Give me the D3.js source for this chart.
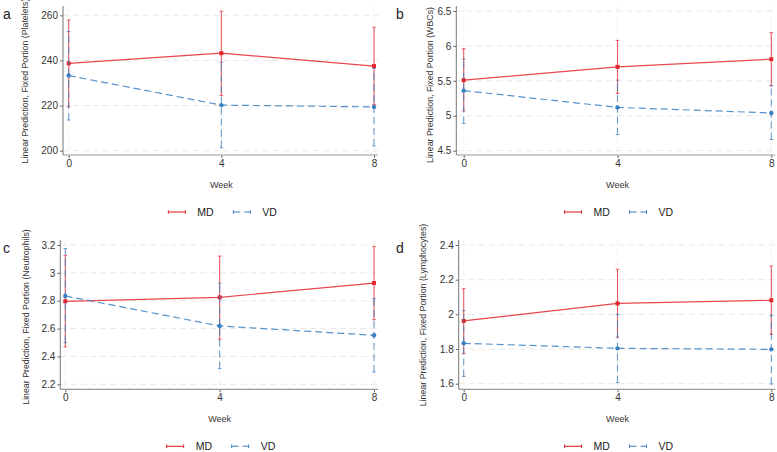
<!DOCTYPE html>
<html>
<head>
<meta charset="utf-8">
<script src="https://cdn.jsdelivr.net/npm/d3@7"></script>
<style>
  body { margin: 0; background: #fff; }
  svg { font-family: "Liberation Sans", Arial, sans-serif; }
</style>
</head>
<body>
<div id="chart"></div>
<script>
const weeks = [0, 4, 8];
const groups = ["MD", "VD"];

// point estimates and 95% CI per panel, [week0, week4, week8]
const plateletsMD = [238.7, 243.2, 237.5], plateletsMDlo = [219.5, 224.4, 220.5], plateletsMDhi = [257.9, 261.8, 254.7];
const plateletsVD = [233.3, 220.2, 219.4], plateletsVDlo = [213.6, 201.3, 202.1], plateletsVDhi = [252.8, 239.2, 236.5];
const wbcMD = [5.51, 5.70, 5.81], wbcMDlo = [5.07, 5.32, 5.43], wbcMDhi = [5.96, 6.08, 6.19];
const wbcVD = [5.36, 5.12, 5.04], wbcVDlo = [4.89, 4.73, 4.66], wbcVDhi = [5.81, 5.51, 5.43];
const neutMD = [2.796, 2.824, 2.927], neutMDlo = [2.468, 2.523, 2.664], neutMDhi = [3.126, 3.12, 3.188];
const neutVD = [2.834, 2.619, 2.552], neutVDlo = [2.499, 2.312, 2.288], neutVDhi = [3.174, 2.925, 2.815];
const lymMD = [1.962, 2.063, 2.081], lymMDlo = [1.775, 1.869, 1.885], lymMDhi = [2.148, 2.260, 2.279];
const lymVD = [1.833, 1.804, 1.798], lymVDlo = [1.642, 1.606, 1.598], lymVDhi = [2.021, 2.0, 1.994];

const plateletTicks = [200, 220, 240, 260];
const wbcTicks = [4.5, 5, 5.5, 6, 6.5];
const neutTicks = [2.2, 2.4, 2.6, 2.8, 3, 3.2];
const lymTicks = [1.6, 1.8, 2, 2.2, 2.4];

const colors = { MD: "#e3262d", VD: "#3a7fc1" };

const panels = [
  { label: "a", title: "Linear Prediction, Fixed Portion (Platelets)", ticks: plateletTicks,
    md: [plateletsMD, plateletsMDlo, plateletsMDhi], vd: [plateletsVD, plateletsVDlo, plateletsVDhi],
    ox: 0, oy: 0, spine: 63, x0: 68.7, x8: 374, yTop: 15.3, yBot: 150.7, sTop: 6, sBot: 155,
    tx: 25, ty: 81, lx: 3, ly: 19 },
  { label: "b", title: "Linear Prediction, Fixed Portion (WBCs)", ticks: wbcTicks,
    md: [wbcMD, wbcMDlo, wbcMDhi], vd: [wbcVD, wbcVDlo, wbcVDhi],
    ox: 388, oy: 0, spine: 68.3, x0: 75.7, x8: 383.3, yTop: 11, yBot: 150.7, sTop: 6, sBot: 155,
    tx: 42, ty: 85, lx: 8, ly: 19 },
  { label: "c", title: "Linear Prediction, Fixed Portion (Neutrophils)", ticks: neutTicks,
    md: [neutMD, neutMDlo, neutMDhi], vd: [neutVD, neutVDlo, neutVDhi],
    ox: 0, oy: 226, spine: 60.3, x0: 65.3, x8: 374, yTop: 19, yBot: 158.3, sTop: 14, sBot: 163.3,
    tx: 25.5, ty: 91, lx: 3, ly: 27 },
  { label: "d", title: "Linear Prediction, Fixed Portion (Lymphocytes)", ticks: lymTicks,
    md: [lymMD, lymMDlo, lymMDhi], vd: [lymVD, lymVDlo, lymVDhi],
    ox: 388, oy: 226, spine: 70.7, x0: 75.7, x8: 383.3, yTop: 19, yBot: 157.7, sTop: 14, sBot: 163.3,
    tx: 35, ty: 89, lx: 8, ly: 27 }
];

const svg = d3.select("#chart").append("svg")
  .attr("width", 777)
  .attr("height", 452);

panels.forEach(p => {
  const g = svg.append("g").attr("transform", `translate(${p.ox}, ${p.oy})`);

  const x = d3.scaleLinear().domain([0, 8]).range([p.x0, p.x8]);
  const y = d3.scaleLinear()
    .domain([d3.min(p.ticks), d3.max(p.ticks)])
    .range([p.yBot, p.yTop]);

  // grid
  g.selectAll(".hgrid").data(p.ticks).enter().append("line")
    .attr("x1", p.spine).attr("x2", p.x8 + 4)
    .attr("y1", d => y(d)).attr("y2", d => y(d))
    .attr("stroke", "#e2e2e2").attr("stroke-width", 0.8)
    .attr("stroke-dasharray", "6,4");
  g.selectAll(".vgrid").data(weeks).enter().append("line")
    .attr("x1", d => x(d)).attr("x2", d => x(d))
    .attr("y1", p.sTop).attr("y2", p.sBot)
    .attr("stroke", "#ececec").attr("stroke-width", 0.8)
    .attr("stroke-dasharray", "6,4");

  // axes
  const yAxis = d3.axisLeft(y).tickValues(p.ticks).tickFormat(d => d).tickSize(3).tickSizeOuter(0);
  const ya = g.append("g").attr("transform", `translate(${p.spine}, 0)`).call(yAxis);
  ya.select(".domain").remove();
  ya.selectAll(".tick line").attr("stroke", "#666");
  ya.selectAll(".tick text").attr("fill", "#333").style("font-size", "10px").attr("x", -5);
  g.append("line").attr("x1", p.spine).attr("x2", p.spine).attr("y1", p.sTop).attr("y2", p.sBot)
    .attr("stroke", "#777").attr("stroke-width", 1);

  const xAxis = d3.axisBottom(x).tickValues(weeks).tickFormat(d => d).tickSize(3).tickSizeOuter(0);
  const xa = g.append("g").attr("transform", `translate(0, ${p.sBot})`).call(xAxis);
  xa.select(".domain").remove();
  xa.selectAll(".tick line").attr("stroke", "#666");
  xa.selectAll(".tick text").attr("fill", "#333").style("font-size", "10px").attr("y", 5);
  g.append("line").attr("x1", p.spine).attr("x2", p.x8 + 4).attr("y1", p.sBot).attr("y2", p.sBot)
    .attr("stroke", "#999").attr("stroke-width", 1.2);

  // titles
  g.append("text").attr("x", (p.x0 + p.x8) / 2).attr("y", p.sBot + 33)
    .attr("text-anchor", "middle").style("font-size", "9px").attr("fill", "#333").text("Week");
  g.append("text")
    .attr("transform", `translate(${p.tx + 3}, ${p.ty}) rotate(-90)`)
    .attr("text-anchor", "middle")
    .style("font-size", "8.8px").attr("fill", "#333").text(p.title);
  g.append("text").attr("x", p.lx).attr("y", p.ly)
    .style("font-size", "14px").attr("fill", "#222").text(p.label);

  // series
  [["MD", p.md], ["VD", p.vd]].forEach(([name, s]) => {
    const col = colors[name];
    const dash = name === "VD" ? "7,4" : null;
    const pts = weeks.map((w, i) => ({ w, v: s[0][i], lo: s[1][i], hi: s[2][i] }));

    // CI bars
    const eb = g.append("g").attr("opacity", 0.75);
    eb.selectAll("line.bar").data(pts).enter().append("line")
      .attr("x1", d => x(d.w)).attr("x2", d => x(d.w))
      .attr("y1", d => y(d.lo)).attr("y2", d => y(d.hi))
      .attr("stroke", col).attr("stroke-width", 1.1)
      .attr("stroke-dasharray", dash);
    ["lo", "hi"].forEach(k => {
      eb.selectAll("line.cap" + k).data(pts).enter().append("line")
        .attr("x1", d => x(d.w) - 1.8).attr("x2", d => x(d.w) + 1.8)
        .attr("y1", d => y(d[k])).attr("y2", d => y(d[k]))
        .attr("stroke", col).attr("stroke-width", 1);
    });

    // line
    g.append("path").datum(pts)
      .attr("d", d3.line().x(d => x(d.w)).y(d => y(d.v)))
      .attr("fill", "none").attr("stroke", col).attr("stroke-width", 1.2)
      .attr("stroke-opacity", 0.85)
      .attr("stroke-dasharray", dash);

    // markers
    if (name === "MD") {
      g.selectAll(".mk" + name).data(pts).enter().append("rect")
        .attr("x", d => x(d.w) - 2).attr("y", d => y(d.v) - 2)
        .attr("width", 4).attr("height", 4).attr("fill", col);
    } else {
      g.selectAll(".mk" + name).data(pts).enter().append("circle")
        .attr("cx", d => x(d.w)).attr("cy", d => y(d.v)).attr("r", 2.2).attr("fill", col);
    }
  });

  // legend
  const cx = (p.x0 + p.x8) / 2;
  const ly = p.sBot + 57;
  const legend = g.append("g").attr("transform", `translate(${cx - 53}, ${ly})`);
  groups.forEach((name, i) => {
    const lg = legend.append("g").attr("transform", `translate(${i * 65}, 0)`);
    const col = colors[name];
    lg.append("line").attr("x1", 0).attr("x2", 17).attr("y1", 0).attr("y2", 0)
      .attr("stroke", col).attr("stroke-width", 1.1)
      .attr("stroke-dasharray", name === "VD" ? "7,4" : null);
    [0, 17].forEach(xx => lg.append("line").attr("x1", xx).attr("x2", xx)
      .attr("y1", -1.8).attr("y2", 1.8).attr("stroke", col).attr("stroke-width", 1));
    lg.append("text").attr("x", 29).attr("y", 4).style("font-size", "10.5px")
      .attr("fill", "#222").text(name);
  });
});
</script>
</body>
</html>
